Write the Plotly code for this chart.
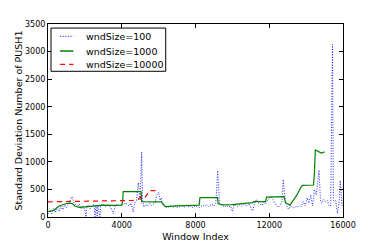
import plotly.graph_objects as go

# ---- data ----
x_w100 = [0, 100, 200, 300, 400, 500, 600, 700, 800, 900, 1000, 1100, 1200, 1300, 1400, 1500,
          1600, 1700, 1800, 1900, 2000, 2060, 2100, 2200, 2300, 2400, 2500, 2550, 2600, 2670,
          2700, 2820, 2850, 2950, 3100, 3200, 3300, 3400, 3540, 3650, 3800, 3900, 4000, 4100,
          4200, 4300, 4400, 4500, 4620, 4700, 4800, 4900, 4950, 5000, 5080, 5130, 5200, 5300,
          5400, 5500, 5600, 5700, 5800, 5900, 6000, 6080, 6150, 6200, 6300, 6400, 6500, 6600,
          6700, 6800, 6900, 7000, 7100, 7200, 7300, 7400, 7500, 7600, 7700, 7800, 7900, 8000,
          8100, 8200, 8300, 8400, 8500, 8600, 8700, 8800, 8900, 9000, 9100, 9150, 9200, 9250,
          9300, 9400, 9500, 9600, 9700, 9800, 9900, 10000, 10100, 10200, 10300, 10400, 10500,
          10600, 10700, 10800, 10900, 11000, 11100, 11200, 11300, 11400, 11500, 11600, 11700,
          11800, 11900, 12000, 12100, 12200, 12300, 12400, 12500, 12600, 12700, 12760, 12850,
          12950, 13050, 13150, 13250, 13350, 13450, 13550, 13650, 13750, 13850, 13950, 14050,
          14150, 14250, 14350, 14450, 14550, 14650, 14700, 14780, 14850, 14950, 15050, 15150,
          15250, 15330, 15380, 15430, 15480, 15600, 15700, 15800, 15850, 15950]
y_w100 = [50, 120, 60, 150, 80, 180, 100, 200, 130, 220, 170, 250, 300, 370, 260, 220,
          180, 240, 150, 200, 120, 0, 180, 220, 150, 200, 230, 0, 220, 0,
          200, 0, 210, 230, 190, 220, 200, 180, 60, 210, 230, 200, 240, 220,
          260, 230, 200, 250, 90, 250, 300, 620, 400, 300, 1180, 300, 180, 230,
          200, 250, 210, 230, 250, 400, 450, 300, 350, 240, 200, 180, 170, 200,
          190, 180, 200, 170, 190, 210, 200, 180, 210, 190, 200, 160, 190, 200,
          180, 170, 190, 210, 200, 220, 190, 210, 230, 200, 250, 500, 840, 600,
          250, 220, 200, 180, 210, 180, 200, 100, 230, 210, 190, 220, 200,
          230, 210, 200, 240, 180, 110, 250, 320, 260, 230, 210, 260,
          240, 300, 330, 380, 320, 260, 200, 180, 220, 300, 680, 350,
          200, 140, 200, 180, 160, 200, 180, 210, 190, 280, 200, 350,
          250, 400, 200, 500, 400, 700, 850, 300, 250, 320, 270, 300,
          200, 200, 2270, 3130, 300, 300, 70, 300, 660, 200]

x_w1000 = [0, 300, 600, 1000, 1300, 1450, 1700, 1850, 2200, 2600, 3000, 3500, 4000, 4050,
           4080, 5050, 5080, 6150, 6350, 7000, 7500, 8200, 8240, 9200, 9230, 9500, 10000,
           10500, 11000, 11100, 11150, 11800, 11850, 12800, 12880, 13000, 13120, 13300,
           13500, 13700, 13800, 14400, 14450, 14500, 14830, 15000]
y_w1000 = [100, 120, 200, 245, 248, 200, 175, 180, 200, 210, 215, 210, 215, 300,
           460, 460, 280, 275, 190, 200, 205, 215, 350, 350, 240, 220, 225,
           235, 245, 260, 280, 280, 360, 370, 260, 230, 215, 300,
           400, 530, 575, 580, 800, 1215, 1160, 1180]

x_w10000 = [0, 1000, 2000, 3000, 3900, 4300, 4600, 4900, 5000, 5100, 5300, 5500, 5600, 6000]
y_w10000 = [275, 280, 283, 287, 290, 295, 300, 320, 360, 330, 370, 470, 480, 480]

series_names = ["wndSize=100", "wndSize=1000", "wndSize=10000"]
x_ticks = [0, 4000, 8000, 12000, 16000]
y_ticks = [0, 500, 1000, 1500, 2000, 2500, 3000, 3500]

BLUE, GREEN, RED = "#0000ff", "#008000", "#ff0000"
FONT = "DejaVu Sans"

fig = go.Figure()
fig.add_trace(go.Scatter(x=x_w100, y=y_w100, mode="lines", name=series_names[0],
                         line=dict(color=BLUE, width=1, dash="1px,1.6px"), opacity=0.85))
fig.add_trace(go.Scatter(x=x_w1000, y=y_w1000, mode="lines", name=series_names[1],
                         line=dict(color=GREEN, width=1.2)))
fig.add_trace(go.Scatter(x=x_w10000, y=y_w10000, mode="lines", name=series_names[2],
                         line=dict(color=RED, width=1.2, dash="5px,4px")))

# manual legend (matplotlib-like box)
styles = [dict(color=BLUE, width=1, dash="1px,1.6px"),
          dict(color=GREEN, width=1.5),
          dict(color=RED, width=1.2, dash="5px,4px")]
rows_y = [0.936, 0.860, 0.791]
shapes = [dict(type="rect", xref="paper", yref="paper", x0=0.0102, x1=0.399, y0=0.755, y1=0.979,
               line=dict(color="black", width=1), fillcolor="white", layer="above")]
annotations = []
for name, st, ry in zip(series_names, styles, rows_y):
    shapes.append(dict(type="line", xref="paper", yref="paper", x0=0.041, x1=0.086, y0=ry, y1=ry,
                       line=st, layer="above"))
    annotations.append(dict(xref="paper", yref="paper", x=0.123, y=ry, text=name, showarrow=False,
                            xanchor="left", yanchor="middle", font=dict(family=FONT, size=9.5, color="black")))

fig.update_layout(
    width=382, height=242,
    margin=dict(l=48, r=39, t=24, b=25),
    paper_bgcolor="white", plot_bgcolor="white",
    showlegend=False,
    font=dict(family=FONT, color="black"),
    shapes=shapes, annotations=annotations,
)
fig.update_xaxes(range=[0, 16000], tickvals=x_ticks, ticktext=[str(v) for v in x_ticks],
                 ticks="inside", ticklen=4, tickcolor="black", showline=True, linecolor="black",
                 linewidth=1, mirror="allticks", showgrid=False, zeroline=False, automargin=False,
                 tickfont=dict(size=8, family=FONT),
                 title=dict(text="Window Index", font=dict(size=9.5, family=FONT), standoff=6))
fig.update_yaxes(range=[0, 3500], tickvals=y_ticks, ticktext=[str(v) for v in y_ticks],
                 ticks="inside", ticklen=4, tickcolor="black", showline=True, linecolor="black",
                 linewidth=1, mirror="allticks", showgrid=False, zeroline=False, automargin=False,
                 tickfont=dict(size=8, family=FONT),
                 title=dict(text="Standard Deviation Number of PUSH1", font=dict(size=9.5, family=FONT), standoff=0))

fig.write_html("out.html", config={"displayModeBar": False, "staticPlot": True},
               post_script="document.body.style.margin='0';document.body.style.overflow='hidden';")
